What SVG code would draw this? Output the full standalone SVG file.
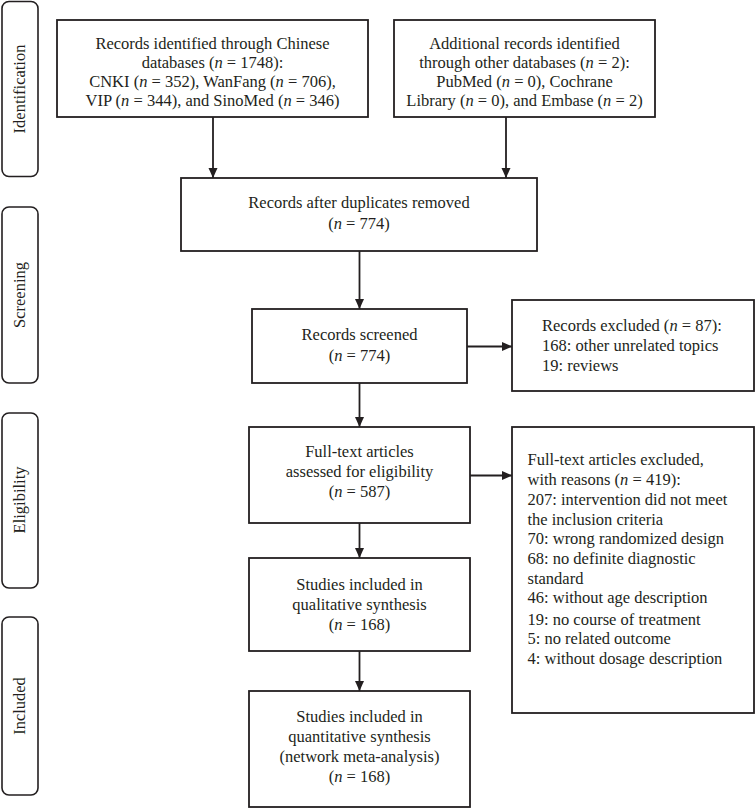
<svg xmlns="http://www.w3.org/2000/svg" width="756" height="809" viewBox="0 0 756 809">
<style>
  .box { fill: #ffffff; stroke: #231f20; stroke-width: 1.8; }
  .lbl { fill: #ffffff; stroke: #231f20; stroke-width: 1.6; }
  text { font-family: "Liberation Serif", "Times New Roman", serif; font-size: 16.5px; fill: #231f20; }
  .c { text-anchor: middle; }
  .l { text-anchor: start; }
  .i { font-style: italic; }
  .edge { stroke: #231f20; stroke-width: 1.8; fill: none; marker-end: url(#arr); }
</style>
<defs>
  <marker id="arr" viewBox="0 0 10 10" refX="10" refY="5" markerWidth="10" markerHeight="10" markerUnits="userSpaceOnUse" orient="auto">
    <path d="M0,0.5 L10,5 L0,9.5 z" fill="#231f20"/>
  </marker>
</defs>
<rect width="756" height="809" fill="#ffffff"/>

<g id="phase-identification">
  <rect class="lbl" x="2" y="1.5" width="36" height="175" rx="7"/>
  <text class="c" transform="translate(25,89) rotate(-90)">Identification</text>
</g>
<g id="phase-screening">
  <rect class="lbl" x="2" y="207" width="36" height="176" rx="7"/>
  <text class="c" transform="translate(25,295) rotate(-90)">Screening</text>
</g>
<g id="phase-eligibility">
  <rect class="lbl" x="2" y="413" width="36" height="175" rx="7"/>
  <text class="c" transform="translate(25,500) rotate(-90)">Eligibility</text>
</g>
<g id="phase-included">
  <rect class="lbl" x="2" y="617" width="36" height="178" rx="7"/>
  <text class="c" transform="translate(25,706) rotate(-90)">Included</text>
</g>

<g id="chinese-db">
  <rect class="box" x="57" y="20" width="311" height="97"/>
  <text class="c" x="212.5" y="49">Records identified through Chinese</text>
  <text class="c" x="212.5" y="68">databases (<tspan class="i">n</tspan> = 1748):</text>
  <text class="c" x="212.5" y="87">CNKI (<tspan class="i">n</tspan> = 352), WanFang (<tspan class="i">n</tspan> = 706),</text>
  <text class="c" x="212.5" y="106">VIP (<tspan class="i">n</tspan> = 344), and SinoMed (<tspan class="i">n</tspan> = 346)</text>
</g>
<g id="other-db">
  <rect class="box" x="394" y="20" width="261" height="97"/>
  <text class="c" x="524.5" y="49">Additional records identified</text>
  <text class="c" x="524.5" y="68">through other databases (<tspan class="i">n</tspan> = 2):</text>
  <text class="c" x="524.5" y="87">PubMed (<tspan class="i">n</tspan> = 0), Cochrane</text>
  <text class="c" x="524.5" y="106">Library (<tspan class="i">n</tspan> = 0), and Embase (<tspan class="i">n</tspan> = 2)</text>
</g>
<g id="dedup">
  <rect class="box" x="181" y="178" width="356" height="73"/>
  <text class="c" x="359" y="208">Records after duplicates removed</text>
  <text class="c" x="359" y="229">(<tspan class="i">n</tspan> = 774)</text>
</g>
<g id="screened">
  <rect class="box" x="252" y="309" width="215" height="74"/>
  <text class="c" x="359.5" y="340">Records screened</text>
  <text class="c" x="359.5" y="361">(<tspan class="i">n</tspan> = 774)</text>
</g>
<g id="excluded">
  <rect class="box" x="512" y="300" width="242" height="91"/>
  <text class="l" x="542" y="331">Records excluded (<tspan class="i">n</tspan> = 87):</text>
  <text class="l" x="542" y="351">168: other unrelated topics</text>
  <text class="l" x="542" y="371">19: reviews</text>
</g>
<g id="fulltext">
  <rect class="box" x="249" y="427" width="221" height="96"/>
  <text class="c" x="359.5" y="457">Full-text articles</text>
  <text class="c" x="359.5" y="477">assessed for eligibility</text>
  <text class="c" x="359.5" y="497">(<tspan class="i">n</tspan> = 587)</text>
</g>
<g id="fulltext-excluded">
  <rect class="box" x="512" y="427" width="242" height="286"/>
  <text class="l" x="527.5" y="465">Full-text articles excluded,</text>
  <text class="l" x="527.5" y="485">with reasons (<tspan class="i">n</tspan> = 419):</text>
  <text class="l" x="527.5" y="505">207: intervention did not meet</text>
  <text class="l" x="527.5" y="524.5">the inclusion criteria</text>
  <text class="l" x="527.5" y="544">70: wrong randomized design</text>
  <text class="l" x="527.5" y="564">68: no definite diagnostic</text>
  <text class="l" x="527.5" y="583.5">standard</text>
  <text class="l" x="527.5" y="603">46: without age description</text>
  <text class="l" x="527.5" y="624.5">19: no course of treatment</text>
  <text class="l" x="527.5" y="644">5: no related outcome</text>
  <text class="l" x="527.5" y="664">4: without dosage description</text>
</g>
<g id="qualitative">
  <rect class="box" x="249" y="558" width="221" height="93"/>
  <text class="c" x="359.5" y="590">Studies included in</text>
  <text class="c" x="359.5" y="610">qualitative synthesis</text>
  <text class="c" x="359.5" y="630">(<tspan class="i">n</tspan> = 168)</text>
</g>
<g id="quantitative">
  <rect class="box" x="249" y="691" width="221" height="116"/>
  <text class="c" x="359.5" y="722">Studies included in</text>
  <text class="c" x="359.5" y="742">quantitative synthesis</text>
  <text class="c" x="359.5" y="762">(network meta-analysis)</text>
  <text class="c" x="359.5" y="782">(<tspan class="i">n</tspan> = 168)</text>
</g>

<g id="connectors">
  <line class="edge" x1="213" y1="117" x2="213" y2="178"/>
  <line class="edge" x1="506" y1="117" x2="506" y2="178"/>
  <line class="edge" x1="359.5" y1="251" x2="359.5" y2="309"/>
  <line class="edge" x1="467" y1="346.5" x2="512" y2="346.5"/>
  <line class="edge" x1="359.5" y1="383" x2="359.5" y2="427"/>
  <line class="edge" x1="470" y1="475.5" x2="512" y2="475.5"/>
  <line class="edge" x1="359.5" y1="523" x2="359.5" y2="558"/>
  <line class="edge" x1="359.5" y1="651" x2="359.5" y2="691"/>
</g>
</svg>
